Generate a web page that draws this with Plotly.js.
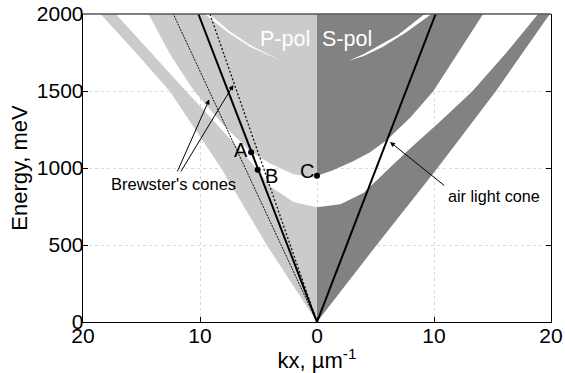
<!DOCTYPE html>
<html><head><meta charset="utf-8">
<script src="https://cdn.plot.ly/plotly-3.0.1.min.js"></script>
<style>body{margin:0;background:#fff}#chart{width:565px;height:373px}</style>
</head><body><div id="chart"></div>
<script>
// ---- P-pol (drawn on the left, kx magnitudes in 1/um) ----
const pOuterK  = [0, 4.3, 8.2, 12.6, 15.5, 18.5];
const pOuterE  = [0, 500, 1000, 1500, 1750, 2000];
const pLowTopK = [0, 2, 4, 5.07, 7, 9, 11.2, 14, 17.2];
const pLowTopE = [745, 780, 880, 989, 1150, 1320, 1500, 1730, 2000];
const pUpBotK  = [0, 2, 4, 5.63, 8, 10.5, 12.5, 14.4];
const pUpBotE  = [935, 960, 1030, 1102, 1280, 1500, 1730, 2000];
const pArcTopK = [2.88, 4, 5.75, 7.5, 9.2];
const pArcTopE = [1690, 1735, 1800, 1890, 2000];
const pArcBotK = [9.6, 7.6, 5.8, 4, 2.88];
const pArcBotE = [2000, 1880, 1790, 1727, 1690];
// ---- S-pol (drawn on the right) ----
const sOuterK  = [0, 5.1, 10.3, 15.3, 19.9];
const sOuterE  = [0, 500, 1000, 1500, 2000];
const sLowTopK = [0, 2, 4, 6.2, 8, 10.5, 13.3, 16.2, 18.9];
const sLowTopE = [745, 765, 840, 1000, 1130, 1300, 1500, 1750, 2000];
const sUpBotK  = [0, 1.25, 3, 4.5, 5.95, 8, 9.95, 12.1, 14.2];
const sUpBotE  = [950, 982, 1040, 1100, 1180, 1330, 1500, 1750, 2000];
const sArcTopK = [2.7, 4, 5.2, 6.95, 9.2];
const sArcTopE = [1697, 1740, 1790, 1865, 2000];
const sArcBotK = [9.8, 7.6, 5.6, 4, 2.7];
const sArcBotE = [2000, 1880, 1785, 1728, 1697];
// ---- cones and points ----
const airConeK = [0, 10.14];
const airConeE = [0, 2000];
const brewster1K = [0, 12.28];
const brewster2K = [0, 9.15];
const coneE = [0, 2000];
const ptNames = ['A', 'B', 'C'];
const ptK = [-5.63, -5.07, 0];
const ptE = [1102, 989, 950];
const xTickVals = [-20, -10, 0, 10, 20];
const xTickText = ['20', '10', '0', '10', '20'];
const yTickVals = [0, 500, 1000, 1500, 2000];

const LIGHT = '#cbcbcb', DARK = '#828282';
const neg = a => a.map(v => -v);
const rev = a => a.slice().reverse();

function band(kOuter, eOuter, kInner, eInner, sign) {
  const k = kOuter.concat(rev(kInner)).concat([0]);
  const e = eOuter.concat(rev(eInner)).concat([0]);
  return {k: k.map(v => v * sign), e: e};
}
function upper(kEdge, eEdge, sign) {
  const k = kEdge.concat([0]);
  const e = eEdge.concat([2000]);
  return {k: k.map(v => v * sign), e: e};
}
function fillTrace(p, color) {
  return {x: p.k, y: p.e, type: 'scatter', mode: 'lines', fill: 'toself',
          fillcolor: color, line: {width: 0, color: color}, hoverinfo: 'skip', showlegend: false};
}
const traces = [
  fillTrace(band(pOuterK, pOuterE, pLowTopK, pLowTopE, -1), LIGHT),
  fillTrace(upper(pUpBotK, pUpBotE, -1), LIGHT),
  fillTrace(band(sOuterK, sOuterE, sLowTopK, sLowTopE, 1), DARK),
  fillTrace(upper(sUpBotK, sUpBotE, 1), DARK),
  fillTrace({k: neg(pArcTopK.concat(pArcBotK)), e: pArcTopE.concat(pArcBotE)}, '#ffffff'),
  fillTrace({k: sArcTopK.concat(sArcBotK), e: sArcTopE.concat(sArcBotE)}, '#ffffff'),
  {x: neg(brewster1K), y: coneE, type: 'scatter', mode: 'lines', line: {color: '#111', width: 1, dash: '2px,1px'}, showlegend: false},
  {x: neg(brewster2K), y: coneE, type: 'scatter', mode: 'lines', line: {color: '#111', width: 1.3, dash: '2px,2px'}, showlegend: false},
  {x: neg(airConeK), y: airConeE, type: 'scatter', mode: 'lines', line: {color: '#000', width: 2}, showlegend: false},
  {x: airConeK, y: airConeE, type: 'scatter', mode: 'lines', line: {color: '#000', width: 2}, showlegend: false},
  {x: ptK, y: ptE, type: 'scatter', mode: 'markers', marker: {color: '#000', size: 6}, showlegend: false}
];

const F = 'Arial, "Liberation Sans", sans-serif';
const labelPos = {A: [-6.5, 1117], B: [-3.93, 948], C: [-0.85, 981]};
const annotations = ptNames.map(n => ({x: labelPos[n][0], y: labelPos[n][1], text: n, showarrow: false,
  font: {family: F, size: 20, color: '#000'}}));
annotations.push(
  {x: -2.74, y: 1836, text: 'P-pol', showarrow: false, font: {family: F, size: 21.5, color: '#fff'}},
  {x: 2.54, y: 1836, text: 'S-pol', showarrow: false, font: {family: F, size: 21.5, color: '#fff'}},
  {x: -12.3, y: 896, text: "Brewster's cones", showarrow: false, font: {family: F, size: 16.5, color: '#000'}},
  {x: 15.1, y: 818, text: 'air light cone', showarrow: false, font: {family: F, size: 16.2, color: '#000'}},
  {x: -9.21, y: 1445, ax: -11.99, ay: 968, axref: 'x', ayref: 'y', text: '', showarrow: true, arrowhead: 2, arrowsize: 1, arrowwidth: 1, arrowcolor: '#000'},
  {x: -7.15, y: 1539, ax: -11.71, ay: 968, axref: 'x', ayref: 'y', text: '', showarrow: true, arrowhead: 2, arrowsize: 1, arrowwidth: 1, arrowcolor: '#000'},
  {x: 6.24, y: 1169, ax: 11.0, ay: 879, axref: 'x', ayref: 'y', text: '', showarrow: true, arrowhead: 2, arrowsize: 1, arrowwidth: 1, arrowcolor: '#000'}
);

const layout = {
  width: 565, height: 373,
  margin: {l: 83, r: 14, t: 14, b: 51},
  paper_bgcolor: '#fff', plot_bgcolor: '#fff',
  showlegend: false,
  font: {family: F, size: 20, color: '#000'},
  xaxis: {range: [-20, 20], tickvals: xTickVals, ticktext: xTickText, ticks: 'inside', ticklen: 5,
          tickcolor: '#000', showline: true, linecolor: '#000', linewidth: 1.3, mirror: false,
          showgrid: true, gridcolor: '#d9d9d9', griddash: 'dot', gridwidth: 1, zeroline: false,
          tickfont: {family: F, size: 21}, ticklabelstandoff: -6,
          title: {text: 'kx, \u00b5m<sup>-1</sup>', font: {family: F, size: 22}, standoff: 7}},
  yaxis: {range: [0, 2000], tickvals: yTickVals, ticks: 'inside', ticklen: 5, tickcolor: '#000',
          showline: true, linecolor: '#000', linewidth: 1.3, mirror: 'ticks',
          showgrid: true, gridcolor: '#d9d9d9', griddash: 'dot', gridwidth: 1, zeroline: false,
          tickfont: {family: F, size: 21}, ticklabelstandoff: -6,
          title: {text: 'Energy, meV', font: {family: F, size: 22}, standoff: 3}},
  shapes: [
    {type: 'line', xref: 'paper', yref: 'paper', x0: 0, x1: 1, y0: 1, y1: 1, line: {color: '#555', width: 1.3}}
  ],
  annotations: annotations
};
Plotly.newPlot('chart', traces, layout, {staticPlot: true, displayModeBar: false});
</script></body></html>
